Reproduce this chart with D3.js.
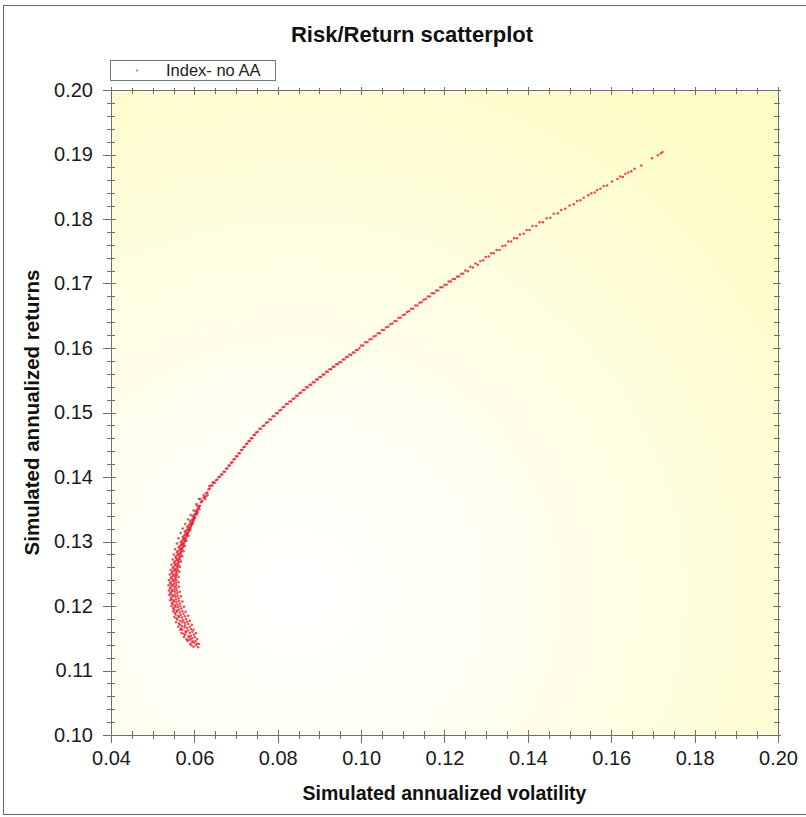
<!DOCTYPE html>
<html>
<head>
<meta charset="utf-8">
<script src="https://cdn.jsdelivr.net/npm/d3@7"></script>
<style>
  body { margin: 0; background: #fff; }
  svg { display: block; font-family: "Liberation Sans", Arial, sans-serif; }
</style>
</head>
<body>
<svg id="chart" width="806" height="817"></svg>
<script>
// chart texts
let chartTitle = 'Risk/Return scatterplot'
let xTitle = 'Simulated annualized volatility'
let yTitle = 'Simulated annualized returns'
let seriesName = 'Index- no AA'

// axis tick labels
let xTickValues = [0.04, 0.06, 0.08, 0.10, 0.12, 0.14, 0.16, 0.18, 0.20]
let yTickValues = [0.10, 0.11, 0.12, 0.13, 0.14, 0.15, 0.16, 0.17, 0.18, 0.19, 0.20]

// simulated portfolios: [volatility, return]
// lower hook (dense cloud)
let hookPoints = [
  [0.0598,0.1137],[0.0604,0.1139],[0.0609,0.1136],
  [0.0590,0.1141],[0.0600,0.1143],[0.0606,0.1142],[0.0594,0.1144],
  [0.0586,0.1147],[0.0597,0.1145],[0.0603,0.1146],[0.0591,0.1148],
  [0.0581,0.1149],[0.0588,0.1151],[0.0595,0.1150],[0.0601,0.1152],
  [0.0578,0.1155],[0.0586,0.1153],[0.0592,0.1154],[0.0599,0.1156],
  [0.0574,0.1157],[0.0580,0.1159],[0.0589,0.1158],[0.0595,0.1160],
  [0.0571,0.1163],[0.0579,0.1161],[0.0585,0.1162],[0.0592,0.1164],
  [0.0568,0.1165],[0.0576,0.1167],[0.0582,0.1166],[0.0589,0.1168],
  [0.0565,0.1171],[0.0570,0.1169],[0.0578,0.1170],[0.0585,0.1172],
  [0.0563,0.1173],[0.0571,0.1175],[0.0577,0.1174],[0.0583,0.1176],
  [0.0559,0.1179],[0.0566,0.1177],[0.0573,0.1178],[0.0580,0.1180],
  [0.0557,0.1181],[0.0563,0.1183],[0.0570,0.1182],[0.0577,0.1184],
  [0.0555,0.1187],[0.0561,0.1185],[0.0567,0.1186],[0.0574,0.1188],
  [0.0553,0.1189],[0.0558,0.1191],[0.0565,0.1190],[0.0571,0.1192],
  [0.0551,0.1195],[0.0557,0.1193],[0.0563,0.1194],[0.0569,0.1196],
  [0.0549,0.1197],[0.0554,0.1199],[0.0560,0.1198],[0.0566,0.1200],
  [0.0548,0.1203],[0.0553,0.1201],[0.0559,0.1202],[0.0565,0.1204],
  [0.0546,0.1205],[0.0551,0.1207],[0.0557,0.1206],[0.0563,0.1208],
  [0.0545,0.1211],[0.0550,0.1209],[0.0556,0.1210],[0.0562,0.1212],
  [0.0544,0.1213],[0.0549,0.1215],[0.0555,0.1214],[0.0560,0.1216],
  [0.0543,0.1219],[0.0548,0.1217],[0.0554,0.1218],[0.0559,0.1220],
  [0.0543,0.1221],[0.0547,0.1223],[0.0553,0.1222],[0.0558,0.1224],
  [0.0542,0.1227],[0.0547,0.1225],[0.0552,0.1226],[0.0557,0.1228],
  [0.0543,0.1229],[0.0548,0.1231],[0.0553,0.1230],[0.0557,0.1232],
  [0.0542,0.1235],[0.0546,0.1233],[0.0551,0.1234],[0.0556,0.1236],
  [0.0543,0.1237],[0.0548,0.1239],[0.0552,0.1238],[0.0557,0.1240],
  [0.0544,0.1243],[0.0548,0.1241],[0.0553,0.1242],[0.0556,0.1244],
  [0.0545,0.1245],[0.0549,0.1247],[0.0554,0.1246],[0.0558,0.1248],
  [0.0546,0.1251],[0.0550,0.1249],[0.0555,0.1250],[0.0558,0.1252],
  [0.0547,0.1253],[0.0551,0.1255],[0.0556,0.1254],[0.0560,0.1256],
  [0.0548,0.1259],[0.0553,0.1257],[0.0557,0.1258],[0.0561,0.1260],
  [0.0550,0.1261],[0.0554,0.1263],[0.0558,0.1262],[0.0562,0.1264],
  [0.0551,0.1267],[0.0555,0.1265],[0.0560,0.1266],[0.0563,0.1268],
  [0.0553,0.1269],[0.0557,0.1271],[0.0561,0.1270],[0.0565,0.1272],
  [0.0555,0.1275],[0.0559,0.1273],[0.0563,0.1274],[0.0566,0.1276],
  [0.0556,0.1277],[0.0560,0.1279],[0.0564,0.1278],[0.0568,0.1280],
  [0.0558,0.1283],[0.0562,0.1281],[0.0566,0.1282],[0.0569,0.1284],
  [0.0560,0.1285],[0.0564,0.1287],[0.0568,0.1286],[0.0571,0.1288],
  [0.0562,0.1291],[0.0566,0.1289],[0.0570,0.1290],[0.0573,0.1292],
  [0.0565,0.1293],[0.0568,0.1295],[0.0572,0.1294],[0.0575,0.1296],
  [0.0567,0.1299],[0.0571,0.1297],[0.0574,0.1298],[0.0577,0.1300],
  [0.0570,0.1301],[0.0573,0.1303],[0.0577,0.1302],[0.0579,0.1304],
  [0.0572,0.1307],[0.0575,0.1305],[0.0579,0.1306],[0.0582,0.1308],
  [0.0575,0.1309],[0.0578,0.1311],[0.0582,0.1310],[0.0584,0.1312],
  [0.0577,0.1315],[0.0581,0.1313],[0.0584,0.1314],[0.0587,0.1316],
  [0.0580,0.1317],[0.0584,0.1319],[0.0587,0.1318],[0.0590,0.1320],
  [0.0583,0.1323],[0.0586,0.1321],[0.0590,0.1322],[0.0592,0.1324],
  [0.0586,0.1325],[0.0589,0.1327],[0.0593,0.1326],[0.0595,0.1328],
  [0.0590,0.1331],[0.0593,0.1329],[0.0596,0.1330],[0.0598,0.1332],
  [0.0593,0.1333],[0.0596,0.1335],[0.0599,0.1334],
  [0.0596,0.1339],[0.0599,0.1337],[0.0602,0.1338],
  [0.0599,0.1341],[0.0602,0.1343],[0.0605,0.1342],
  [0.0603,0.1347],[0.0606,0.1345],[0.0608,0.1346],
  [0.0606,0.1349],[0.0609,0.1351],[0.0612,0.1350]
]

// stray points on both edges of the hook
let hookEdgePoints = [
  [0.0611,0.1141],[0.0593,0.1139],[0.0583,0.1146],[0.0607,0.1149],[0.0575,0.1152],
  [0.0604,0.1158],[0.0569,0.1158],[0.0598,0.1163],[0.0566,0.1163],[0.0594,0.1171],
  [0.0561,0.1168],[0.0589,0.1177],[0.0556,0.1175],[0.0585,0.1185],[0.0552,0.1183],
  [0.0579,0.1191],[0.0549,0.1192],[0.0575,0.1199],[0.0545,0.1200],[0.0571,0.1207],
  [0.0542,0.1209],[0.0568,0.1215],[0.0540,0.1217],[0.0565,0.1222],[0.0539,0.1224],
  [0.0563,0.1230],[0.0538,0.1232],[0.0562,0.1237],[0.0539,0.1240],[0.0562,0.1245],
  [0.0541,0.1249],[0.0564,0.1253],[0.0543,0.1256],[0.0566,0.1261],[0.0545,0.1264],
  [0.0568,0.1269],[0.0548,0.1272],[0.0571,0.1277],[0.0551,0.1280],[0.0574,0.1285],
  [0.0554,0.1288],[0.0577,0.1293],[0.0558,0.1297],[0.0581,0.1301],[0.0562,0.1305],
  [0.0586,0.1309],[0.0567,0.1313],[0.0590,0.1318],[0.0572,0.1320],[0.0595,0.1327],
  [0.0578,0.1327],[0.0600,0.1336],[0.0585,0.1334],[0.0606,0.1343],[0.0591,0.1341],
  [0.0612,0.1355],[0.0598,0.1348],[0.0618,0.1362],[0.0605,0.1358],[0.0626,0.1366],
  [0.0611,0.1366],[0.0632,0.1372]
]

// steep rise
let risePoints = [
  [0.0610,0.1353],[0.0613,0.1355],[0.0616,0.1361],[0.0619,0.1363],[0.0622,0.1368],
  [0.0625,0.1369],[0.0628,0.1375],[0.0631,0.1376],[0.0634,0.1381],[0.0637,0.1382],
  [0.0640,0.1387],[0.0643,0.1387],[0.0646,0.1391],[0.0649,0.1391],[0.0652,0.1395],
  [0.0655,0.1396],[0.0658,0.1400],[0.0661,0.1400],[0.0664,0.1404],[0.0667,0.1404],
  [0.0670,0.1408],[0.0673,0.1408],[0.0676,0.1413],[0.0679,0.1413],[0.0682,0.1418],
  [0.0685,0.1418],[0.0688,0.1422],[0.0691,0.1423],[0.0694,0.1427],[0.0697,0.1428],
  [0.0700,0.1432],[0.0703,0.1432],[0.0706,0.1437],[0.0709,0.1437],[0.0712,0.1442],
  [0.0715,0.1442],[0.0718,0.1446],[0.0721,0.1447],[0.0724,0.1451],[0.0727,0.1452],
  [0.0730,0.1456],[0.0733,0.1456],[0.0736,0.1460],[0.0739,0.1460],[0.0742,0.1465],
  [0.0745,0.1465],[0.0748,0.1469],
  [0.0606,0.1356],[0.0614,0.1366],[0.0622,0.1372],[0.0628,0.1370],[0.0636,0.1386],[0.0644,0.1392]
]

// middle of the frontier
let midPoints = [
  [0.0752,0.1470],[0.0756,0.1475],[0.0760,0.1475],[0.0764,0.1479],[0.0768,0.1480],
  [0.0772,0.1484],[0.0776,0.1485],[0.0780,0.1489],[0.0784,0.1489],[0.0788,0.1494],
  [0.0792,0.1494],[0.0796,0.1499],[0.0800,0.1499],[0.0804,0.1503],[0.0808,0.1504],
  [0.0812,0.1508],[0.0816,0.1509],[0.0820,0.1513],[0.0824,0.1513],[0.0828,0.1517],
  [0.0832,0.1517],[0.0836,0.1521],[0.0840,0.1522],[0.0844,0.1526],[0.0848,0.1526],
  [0.0852,0.1530],[0.0856,0.1531],[0.0860,0.1535],[0.0864,0.1535],[0.0868,0.1539],
  [0.0872,0.1539],[0.0876,0.1543],[0.0880,0.1543],[0.0884,0.1547],[0.0888,0.1547],
  [0.0892,0.1551],[0.0896,0.1551],[0.0900,0.1555],[0.0904,0.1555],[0.0908,0.1559],
  [0.0912,0.1559],[0.0916,0.1563],[0.0920,0.1563],[0.0924,0.1567],[0.0928,0.1567],
  [0.0932,0.1571],[0.0936,0.1571],[0.0940,0.1575],[0.0944,0.1575],[0.0948,0.1578],
  [0.0952,0.1578],[0.0956,0.1582],[0.0960,0.1582],[0.0964,0.1586],[0.0968,0.1586],
  [0.0972,0.1590],[0.0976,0.1589],[0.0980,0.1593],[0.0984,0.1593],[0.0988,0.1597],
  [0.0992,0.1597],[0.0996,0.1600],
  [0.1000,0.1604],[0.1005,0.1604],[0.1010,0.1609],[0.1015,0.1609],[0.1020,0.1613],
  [0.1025,0.1614],[0.1030,0.1618],[0.1035,0.1619],[0.1040,0.1623],[0.1045,0.1623],
  [0.1050,0.1628],[0.1055,0.1628],[0.1060,0.1632],[0.1065,0.1633],[0.1070,0.1637],
  [0.1075,0.1638],[0.1080,0.1642],[0.1085,0.1642],[0.1090,0.1647],[0.1095,0.1647],
  [0.1100,0.1651],[0.1105,0.1652],[0.1110,0.1656],[0.1115,0.1657],[0.1120,0.1661],
  [0.1125,0.1661],[0.1130,0.1666],[0.1135,0.1666],[0.1140,0.1670],[0.1145,0.1671],
  [0.1150,0.1675],[0.1155,0.1676],[0.1160,0.1680],[0.1165,0.1680],[0.1170,0.1685],
  [0.1175,0.1685],[0.1180,0.1689],[0.1185,0.1689],[0.1190,0.1694],[0.1195,0.1694],
  [0.1200,0.1698],[0.1205,0.1698],[0.1210,0.1703],[0.1215,0.1703],[0.1220,0.1707],
  [0.1225,0.1707],[0.1230,0.1711],[0.1235,0.1711],[0.1240,0.1715],[0.1245,0.1715]
]

// upper end (sparser)
let topPoints = [
  [0.1250,0.1720],[0.1256,0.1719],[0.1262,0.1726],[0.1268,0.1725],[0.1274,0.1731],
  [0.1280,0.1729],[0.1286,0.1735],[0.1293,0.1736],[0.1299,0.1741],[0.1306,0.1742],
  [0.1312,0.1747],[0.1318,0.1747],[0.1325,0.1752],[0.1332,0.1752],[0.1339,0.1758],
  [0.1346,0.1759],[0.1353,0.1765],[0.1360,0.1765],[0.1367,0.1770],[0.1374,0.1770],
  [0.1381,0.1776],[0.1390,0.1777],[0.1397,0.1783],[0.1404,0.1783],[0.1411,0.1789],
  [0.1420,0.1789],[0.1428,0.1795],[0.1436,0.1795],[0.1445,0.1801],[0.1454,0.1802],
  [0.1462,0.1808],[0.1472,0.1809],[0.1480,0.1814],[0.1490,0.1816],[0.1500,0.1821],
  [0.1510,0.1823],[0.1518,0.1828],[0.1526,0.1829],[0.1534,0.1833],[0.1545,0.1837],
  [0.1552,0.1840],[0.1560,0.1841],[0.1566,0.1845],[0.1574,0.1847],[0.1582,0.1851],
  [0.1590,0.1852],[0.1602,0.1858],[0.1615,0.1862],[0.1622,0.1866],[0.1628,0.1865],
  [0.1634,0.1870],[0.1641,0.1872],[0.1648,0.1874],[0.1656,0.1878],[0.1672,0.1883],
  [0.1698,0.1894],[0.1712,0.1899],[0.1719,0.1902],[0.1723,0.1904]
]

let allPoints = hookPoints.concat(hookEdgePoints, risePoints, midPoints, topPoints)

let plot = {left: 111, right: 778, top: 90, bottom: 735}
let axisColor = '#6e6e6e'
let dotColor = '#e3162e'

let svg = d3.select('#chart')

// outer frame of the figure
svg.append('rect')
    .attr('x', 3.5).attr('y', 5.5)
    .attr('width', 812).attr('height', 809)
    .attr('fill', '#fff')
    .attr('stroke', '#666')

let x = d3.scaleLinear().domain([0.04, 0.20]).range([plot.left, plot.right])
let y = d3.scaleLinear().domain([0.10, 0.20]).range([plot.bottom, plot.top])

// background gradient of the plot area
let defs = svg.append('defs')
let grad = defs.append('radialGradient')
    .attr('id', 'bgGrad')
    .attr('cx', '0.28').attr('cy', '0.78').attr('r', '0.95')
    .attr('fx', '0.28').attr('fy', '0.78')
grad.append('stop').attr('offset', '0').attr('stop-color', '#ffffff')
grad.append('stop').attr('offset', '0.35').attr('stop-color', '#fffff0')
grad.append('stop').attr('offset', '1').attr('stop-color', '#fdfcc4')

svg.append('rect')
    .attr('x', plot.left).attr('y', plot.top)
    .attr('width', plot.right - plot.left)
    .attr('height', plot.bottom - plot.top)
    .attr('fill', 'url(#bgGrad)')

// title
svg.append('text')
    .attr('x', 412).attr('y', 42)
    .attr('text-anchor', 'middle')
    .style('font-size', '22px')
    .style('font-weight', 'bold')
    .attr('fill', '#111')
    .text(chartTitle)

// legend
svg.append('rect')
    .attr('x', 110.5).attr('y', 60.5)
    .attr('width', 165).attr('height', 20)
    .attr('fill', '#fff')
    .attr('stroke', '#777')
svg.append('circle')
    .attr('cx', 137).attr('cy', 70.5).attr('r', 1)
    .attr('fill', dotColor).attr('opacity', 0.7)
svg.append('text')
    .attr('x', 166).attr('y', 76)
    .style('font-size', '16.5px')
    .attr('fill', '#222')
    .text(seriesName)

// axes, tick labels first
function styleAxis(g) {
    g.select('.domain').remove()
    g.selectAll('text').attr('fill', '#1a1a1a').style('font-size', '20px')
        .style('font-family', '"Liberation Sans", Arial, sans-serif')
}

let fmt = d3.format('.2f')

svg.append('g')
    .attr('transform', 'translate(0,' + plot.bottom + ')')
    .call(d3.axisBottom(x).tickValues(xTickValues).tickFormat(fmt).tickSize(0).tickPadding(16))
    .call(styleAxis)

svg.append('g')
    .attr('transform', 'translate(' + plot.left + ',0)')
    .call(d3.axisLeft(y).tickValues(yTickValues).tickFormat(fmt).tickSize(0).tickPadding(18))
    .call(styleAxis)

// frame lines
let frame = svg.append('g').attr('stroke', axisColor).attr('stroke-width', 1).attr('fill', 'none')
frame.append('rect')
    .attr('x', plot.left + 0.5).attr('y', plot.top + 0.5)
    .attr('width', plot.right - plot.left)
    .attr('height', plot.bottom - plot.top)

let xMinor = x.ticks(32)
let yMinor = y.ticks(50)
let isMajorX = v => xTickValues.some(t => Math.abs(t - v) < 1e-9)
let isMajorY = v => yTickValues.some(t => Math.abs(t - v) < 1e-9)

// bottom and top ticks
xMinor.forEach(v => {
    let px = Math.round(x(v)) + 0.5
    let big = isMajorX(v)
    frame.append('line')
        .attr('x1', px).attr('x2', px)
        .attr('y1', plot.bottom - (big ? 5 : 4)).attr('y2', plot.bottom + (big ? 8 : 4))
    frame.append('line')
        .attr('x1', px).attr('x2', px)
        .attr('y1', plot.top - (big ? 3 : 2)).attr('y2', plot.top + (big ? 5 : 4))
})

// left and right ticks
yMinor.forEach(v => {
    let py = Math.round(y(v)) + 0.5
    let big = isMajorY(v)
    frame.append('line')
        .attr('y1', py).attr('y2', py)
        .attr('x1', plot.left - (big ? 8 : 4)).attr('x2', plot.left + (big ? 5 : 4))
    frame.append('line')
        .attr('y1', py).attr('y2', py)
        .attr('x1', plot.right - (big ? 5 : 4)).attr('x2', plot.right + (big ? 3 : 2))
})

// axis titles
svg.append('text')
    .attr('x', (plot.left + plot.right) / 2).attr('y', 800)
    .attr('text-anchor', 'middle')
    .style('font-size', '19.5px')
    .style('font-weight', 'bold')
    .attr('fill', '#111')
    .text(xTitle)

svg.append('text')
    .attr('transform', 'translate(39,' + (plot.top + plot.bottom) / 2 + ') rotate(-90)')
    .attr('text-anchor', 'middle')
    .style('font-size', '20.5px')
    .style('font-weight', 'bold')
    .attr('fill', '#111')
    .text(yTitle)

// the scatter
svg.append('g')
    .selectAll('circle')
    .data(allPoints)
    .enter().append('circle')
    .attr('cx', d => x(d[0]))
    .attr('cy', d => y(d[1]))
    .attr('r', 1.25)
    .attr('fill', dotColor)
    .attr('opacity', 0.78)
</script>
</body>
</html>
